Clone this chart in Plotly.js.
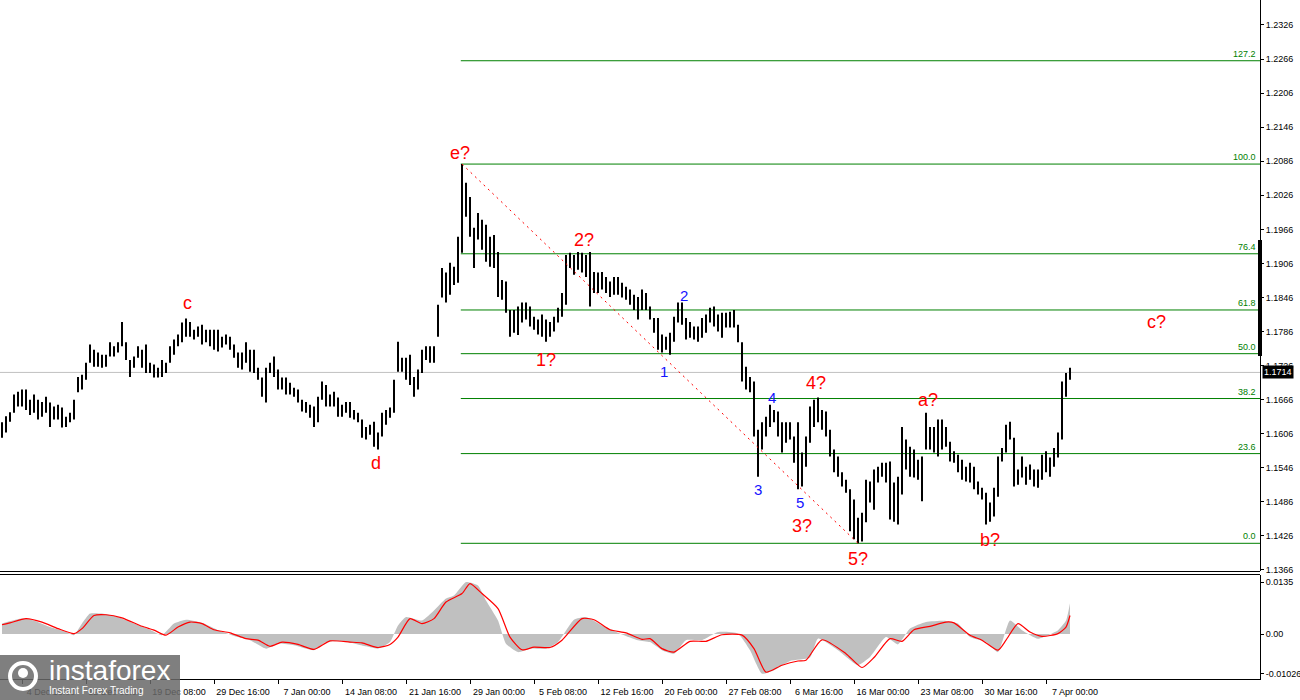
<!DOCTYPE html>
<html><head><meta charset="utf-8">
<script src="https://cdn.plot.ly/plotly-3.0.1.min.js"></script>
<style>html,body{margin:0;padding:0;background:#fff}#chart{width:1300px;height:700px}</style>
</head><body><div id="chart"></div>
<script>
// ---- price bars (H/L) ----
const highs=[
1.1626,1.1637,1.1644,1.1675,1.1680,1.1684,1.1684,1.1666,1.1675,1.1666,
1.1662,1.1671,1.1661,1.1654,1.1657,1.1652,1.1636,1.1643,1.1666,1.1706,
1.1710,1.1731,1.1763,1.1754,1.1749,1.1745,1.1745,1.1767,1.1760,1.1767,
1.1803,1.1767,1.1736,1.1742,1.1760,1.1754,1.1763,1.1731,1.1728,1.1722,
1.1736,1.1731,1.1760,1.1772,1.1781,1.1802,1.1809,1.1803,1.1789,1.1795,
1.1798,1.1789,1.1789,1.1789,1.1789,1.1777,1.1781,1.1777,1.1763,1.1749,
1.1749,1.1767,1.1754,1.1754,1.1722,1.1705,1.1722,1.1731,1.1742,1.1719,
1.1705,1.1705,1.1696,1.1687,1.1684,1.1666,1.1662,1.1657,1.1654,1.1671,
1.1698,1.1692,1.1675,1.1680,1.1670,1.1657,1.1662,1.1662,1.1648,1.1643,
1.1631,1.1618,1.1622,1.1627,1.1608,1.1643,1.1648,1.1652,1.1701,1.1768,
1.1740,1.1740,1.1745,1.1706,1.1719,1.1754,1.1760,1.1760,1.1760,1.1833,
1.1898,1.1890,1.1907,1.1900,1.1953,1.2081,1.2048,1.2023,1.1969,1.1995,
1.1983,1.1974,1.1953,1.1956,1.1926,1.1877,1.1874,1.1824,1.1824,1.1830,
1.1837,1.1837,1.1830,1.1812,1.1807,1.1816,1.1807,1.1803,1.1812,1.1828,
1.1854,1.1921,1.1925,1.1921,1.1926,1.1925,1.1921,1.1926,1.1891,1.1890,
1.1891,1.1882,1.1874,1.1882,1.1882,1.1872,1.1865,1.1860,1.1851,1.1847,
1.1860,1.1854,1.1830,1.1810,1.1810,1.1781,1.1777,1.1784,1.1812,1.1837,
1.1837,1.1810,1.1803,1.1795,1.1795,1.1810,1.1816,1.1828,1.1830,1.1816,
1.1819,1.1819,1.1821,1.1824,1.1798,1.1767,1.1724,1.1706,1.1698,1.1613,
1.1626,1.1636,1.1657,1.1648,1.1645,1.1626,1.1626,1.1626,1.1601,1.1626,
1.1573,1.1601,1.1654,1.1666,1.1670,1.1648,1.1645,1.1613,1.1578,1.1566,
1.1538,1.1525,1.1508,1.1490,1.1458,1.1467,1.1525,1.1522,1.1543,1.1548,
1.1555,1.1555,1.1557,1.1520,1.1530,1.1618,1.1596,1.1583,1.1578,1.1560,
1.1566,1.1643,1.1618,1.1618,1.1631,1.1631,1.1618,1.1592,1.1575,1.1569,
1.1560,1.1548,1.1555,1.1548,1.1522,1.1511,1.1502,1.1485,1.1511,1.1566,
1.1581,1.1622,1.1627,1.1599,1.1543,1.1566,1.1548,1.1552,1.1543,1.1543,
1.1569,1.1575,1.1564,1.1581,1.1608,1.1698,1.1713,1.1722];
const lows=[
1.1599,1.1608,1.1627,1.1643,1.1654,1.1654,1.1648,1.1639,1.1643,1.1631,
1.1636,1.1643,1.1618,1.1631,1.1631,1.1617,1.1618,1.1626,1.1631,1.1679,
1.1684,1.1701,1.1731,1.1724,1.1724,1.1722,1.1724,1.1742,1.1742,1.1749,
1.1760,1.1736,1.1706,1.1722,1.1740,1.1722,1.1713,1.1713,1.1705,1.1705,
1.1706,1.1713,1.1731,1.1745,1.1760,1.1767,1.1777,1.1777,1.1772,1.1777,
1.1763,1.1767,1.1760,1.1754,1.1751,1.1758,1.1763,1.1754,1.1740,1.1722,
1.1719,1.1731,1.1715,1.1713,1.1701,1.1671,1.1661,1.1713,1.1706,1.1684,
1.1684,1.1675,1.1675,1.1671,1.1661,1.1645,1.1643,1.1634,1.1618,1.1626,
1.1666,1.1654,1.1654,1.1654,1.1636,1.1636,1.1643,1.1634,1.1631,1.1626,
1.1599,1.1596,1.1604,1.1583,1.1578,1.1601,1.1622,1.1634,1.1643,1.1715,
1.1715,1.1701,1.1692,1.1671,1.1684,1.1713,1.1736,1.1731,1.1731,1.1777,
1.1846,1.1837,1.1851,1.1868,1.1872,1.1925,1.1988,1.1953,1.1898,1.1948,
1.1930,1.1909,1.1900,1.1898,1.1847,1.1842,1.1819,1.1777,1.1784,1.1780,
1.1802,1.1807,1.1795,1.1789,1.1781,1.1777,1.1768,1.1777,1.1786,1.1802,
1.1812,1.1833,1.1898,1.1886,1.1895,1.1890,1.1882,1.1830,1.1854,1.1854,
1.1860,1.1854,1.1847,1.1851,1.1851,1.1846,1.1842,1.1833,1.1824,1.1807,
1.1824,1.1824,1.1807,1.1784,1.1754,1.1749,1.1754,1.1745,1.1768,1.1802,
1.1798,1.1772,1.1775,1.1772,1.1768,1.1775,1.1784,1.1802,1.1795,1.1786,
1.1775,1.1793,1.1793,1.1793,1.1767,1.1698,1.1684,1.1679,1.1601,1.1530,
1.1578,1.1601,1.1618,1.1626,1.1601,1.1573,1.1590,1.1596,1.1555,1.1508,
1.1513,1.1548,1.1590,1.1618,1.1626,1.1613,1.1601,1.1566,1.1538,1.1530,
1.1513,1.1502,1.1434,1.1420,1.1413,1.1416,1.1450,1.1485,1.1472,1.1520,
1.1530,1.1520,1.1455,1.1451,1.1446,1.1499,1.1543,1.1530,1.1529,1.1525,
1.1487,1.1578,1.1578,1.1573,1.1566,1.1578,1.1583,1.1557,1.1555,1.1538,
1.1525,1.1522,1.1520,1.1508,1.1499,1.1490,1.1446,1.1451,1.1460,1.1495,
1.1557,1.1573,1.1596,1.1513,1.1516,1.1529,1.1516,1.1525,1.1513,1.1511,
1.1525,1.1538,1.1530,1.1548,1.1564,1.1596,1.1671,1.1701];
const lastPrice=1.1714;

// ---- time axis labels (bar index of each label) ----
const dateTickIdx=[5,21,37,53,69,85,101,117,133,149,165,181,197,213,229,245,261];
const dateTickText=["4 Dec 16:00","12 Dec 00:00","19 Dec 08:00","29 Dec 16:00","7 Jan 00:00","14 Jan 08:00","21 Jan 16:00","29 Jan 00:00","5 Feb 08:00","12 Feb 16:00","20 Feb 00:00","27 Feb 08:00","6 Mar 16:00","16 Mar 00:00","23 Mar 08:00","30 Mar 16:00","7 Apr 00:00"];

// ---- price scale ticks ----
const priceTicks=[1.1366,1.1426,1.1486,1.1546,1.1606,1.1666,1.1726,1.1786,1.1846,1.1906,1.1966,1.2026,1.2086,1.2146,1.2206,1.2266,1.2326];

// ---- Fibonacci levels ----
const fibLevels=["0.0","23.6","38.2","50.0","61.8","76.4","100.0","127.2"];
const fibPrices=[1.1413,1.1571,1.1668,1.1747,1.1824,1.1923,1.2081,1.2263];

// ---- MACD (histogram) and signal ----
const macdIdx=[0,5,8,12,16,18,20,22,25,29,33,37,40,43,46,50,54,59,62,66,69,73,78,81,85,91,94,97,99,101,105,108,111,113,116,119,121,124,126,129,132,136,139,143,146,150,155,159,162,165,168,171,175,179,184,187,190,193,197,202,204,209,214,217,221,224,227,231,236,239,242,246,249,252,255,259,264,266,267];
const macdVals=[0.0027,0.0040,0.0035,0.0018,0.0005,-0.0003,0.0027,0.0053,0.0053,0.0044,0.0027,0.0011,-0.0003,0.0027,0.0037,0.0029,0.0010,-0.0008,-0.0016,-0.0038,-0.0025,-0.0029,-0.0042,-0.0021,-0.0018,-0.0032,-0.0038,-0.0021,0.0022,0.0044,0.0035,0.0061,0.0092,0.0100,0.0135,0.0126,0.0087,0.0035,-0.0025,-0.0047,-0.0038,-0.0038,-0.0021,0.0037,0.0044,0.0022,-0.0001,-0.0016,-0.0021,-0.0042,-0.0051,-0.0016,-0.0016,0.0005,0.0001,-0.0042,-0.0103,-0.0094,-0.0070,-0.0061,-0.0012,-0.0042,-0.0081,-0.0060,-0.0008,-0.0027,0.0014,0.0031,0.0034,0.0027,-0.0008,-0.0021,-0.0047,0.0035,0.0010,-0.0012,0.0010,0.0035,0.0080];
const signalIdx=[0,2,6,10,14,18,20,23,26,30,35,38,41,44,47,50,53,57,61,64,67,70,74,78,82,87,90,94,97,99,102,105,108,111,115,117,120,124,127,130,133,137,140,145,148,152,156,160,162,165,168,172,176,180,185,188,191,195,199,201,205,211,215,218,222,225,228,232,236,238,242,245,249,251,254,257,260,264,266,267];
const signalVals=[0.0024,0.0029,0.0040,0.0031,0.0014,0.0001,0.0014,0.0048,0.0050,0.0042,0.0020,0.0010,-0.0003,0.0018,0.0031,0.0027,0.0011,0.0003,-0.0012,-0.0016,-0.0032,-0.0021,-0.0027,-0.0040,-0.0018,-0.0021,-0.0023,-0.0035,-0.0027,-0.0008,0.0040,0.0027,0.0040,0.0083,0.0105,0.0131,0.0105,0.0066,-0.0008,-0.0041,-0.0034,-0.0035,-0.0016,0.0040,0.0037,0.0011,0.0003,-0.0014,-0.0012,-0.0038,-0.0047,-0.0019,-0.0019,-0.0002,-0.0003,-0.0038,-0.0099,-0.0081,-0.0070,-0.0068,-0.0015,-0.0051,-0.0087,-0.0061,-0.0012,-0.0019,0.0011,0.0020,0.0031,0.0029,-0.0003,-0.0016,-0.0042,-0.0016,0.0027,0.0005,-0.0006,0.0001,0.0018,0.0048];

// ---- wave labels ----
const waveText=["c","d","e?","1?","2?","1","2","3","4","5","3?","4?","5?","a?","b?","c?"];
const waveColor=["red","red","red","red","red","blue","blue","blue","blue","blue","red","red","red","red","red","red"];

// ===== layout helpers (pixel geometry) =====
const W=1260, H=679;              // plot area (px)
const r0=-0.5, r1=r0+W/4;         // 4 px per bar
const px2x=p=>p/W, py2y=p=>(H-p)/H;
const wavePos=[[46.4,1.1837],[93.6,1.1555],[114.4,1.2101],[136.1,1.1736],[145.6,1.1948],[165.6,1.1715],[170.4,1.1849],[189.1,1.1508],[192.6,1.1670],[199.6,1.1485],[199.9,1.1444],[203.6,1.1696],[214.1,1.1386],[231.6,1.1666],[247.1,1.1418],[288.6,1.1802]];

// bars as vertical segments
const bx=[],by=[];
for(let i=0;i<highs.length;i++){bx.push(i,i,null);by.push(lows[i],highs[i],null);}

const traces=[
 {type:'scatter',mode:'lines',x:bx,y:by,line:{color:'#000',width:2},hoverinfo:'skip',xaxis:'x',yaxis:'y'},
 {type:'scatter',mode:'lines',x:macdIdx,y:macdVals,fill:'tozeroy',fillcolor:'#c0c0c0',line:{width:0,color:'#c0c0c0',shape:'spline',smoothing:0.5},xaxis:'x',yaxis:'y2',hoverinfo:'skip'},
 {type:'scatter',mode:'lines',x:signalIdx,y:signalVals,line:{color:'#ff0000',width:1.2,shape:'spline',smoothing:0.6},xaxis:'x',yaxis:'y2',hoverinfo:'skip'}
];

const shapes=[];
shapes.push({type:'line',xref:'paper',x0:0,x1:1,yref:'y',y0:lastPrice,y1:lastPrice,line:{color:'#c0c0c0',width:1},layer:'below'});
fibPrices.forEach(p=>shapes.push({type:'line',xref:'x',x0:114.7,x1:r1,yref:'y',y0:p,y1:p,line:{color:'#008000',width:1},layer:'below'}));
shapes.push({type:'line',xref:'x',yref:'y',x0:115,y0:highs[115],x1:214,y1:lows[214],line:{color:'#ff0000',width:1,dash:'2px,4px'}});
shapes.push({type:'line',xref:'paper',yref:'paper',x0:0,x1:1,y0:py2y(571.5),y1:py2y(571.5),line:{color:'#000',width:1}});
shapes.push({type:'line',xref:'paper',yref:'paper',x0:0,x1:1,y0:py2y(574.5),y1:py2y(574.5),line:{color:'#000',width:1}});
shapes.push({type:'rect',xref:'paper',xsizemode:'pixel',xanchor:1,x0:-2,x1:2,yref:'paper',y0:py2y(356),y1:py2y(240),fillcolor:'#000',line:{width:0}});
// logo
shapes.push({type:'rect',xref:'paper',yref:'paper',x0:0,x1:px2x(180),y0:py2y(700),y1:py2y(655),fillcolor:'rgba(105,105,105,0.85)',line:{width:0},layer:'above'});
shapes.push({type:'circle',xref:'paper',yref:'paper',x0:px2x(10),x1:px2x(36),y0:py2y(689),y1:py2y(663),line:{color:'#fff',width:4},layer:'above'});
shapes.push({type:'circle',xref:'paper',yref:'paper',x0:px2x(18),x1:px2x(28),y0:py2y(678),y1:py2y(668),fillcolor:'#fff',line:{width:0},layer:'above'});

const ann=[];
fibLevels.forEach((t,k)=>ann.push({xref:'paper',x:1,xanchor:'right',xshift:-2,yref:'y',y:fibPrices[k],yanchor:'bottom',text:t,showarrow:false,font:{family:'Liberation Sans, Arial',size:9,color:'#008000'}}));
waveText.forEach((t,k)=>ann.push({xref:'x',x:wavePos[k][0],yref:'y',y:wavePos[k][1],text:t,showarrow:false,font:{family:'Liberation Sans, Arial',size:waveColor[k]==='red'?18:15,color:waveColor[k]==='red'?'#ff0000':'#1414ff'}}));
ann.push({xref:'paper',x:1,xanchor:'left',xshift:2,yref:'y',y:lastPrice,text:'1.1714',showarrow:false,bgcolor:'#000',borderpad:1,font:{family:'Liberation Sans, Arial',size:9,color:'#fff'}});
ann.push({xref:'paper',x:px2x(47),xanchor:'left',yref:'paper',y:py2y(670),yanchor:'middle',text:'instaforex',showarrow:false,font:{family:'Liberation Sans, Arial',size:28,color:'#fff'}});
ann.push({xref:'paper',x:px2x(47),xanchor:'left',yref:'paper',y:py2y(690),yanchor:'middle',text:'Instant Forex Trading',showarrow:false,font:{family:'Liberation Sans, Arial',size:10,color:'#fff'}});

const layout={
 width:1300,height:700,margin:{l:0,r:40,t:0,b:21},
 paper_bgcolor:'#fff',plot_bgcolor:'#fff',showlegend:false,
 xaxis:{range:[r0,r1],anchor:'y2',showgrid:false,zeroline:false,tickmode:'array',tickvals:dateTickIdx,ticktext:dateTickText,ticks:'outside',ticklen:4,tickcolor:'#000',ticklabelshift:29,showline:true,linecolor:'#000',linewidth:1,tickfont:{family:'Liberation Sans, Arial',size:9,color:'#000'}},
 yaxis:{domain:[py2y(571),1],range:[1.13642,1.23700],side:'right',anchor:'x',showgrid:false,zeroline:false,tickmode:'array',tickvals:priceTicks,tickformat:'.4f',ticks:'outside',ticklen:3,tickcolor:'#000',showline:true,linecolor:'#000',tickfont:{family:'Liberation Sans, Arial',size:9,color:'#000'}},
 yaxis2:{domain:[0,py2y(575)],range:[-0.01168,0.01532],side:'right',anchor:'x',showgrid:false,zeroline:false,tickmode:'array',tickvals:[0.0135,0,-0.01026],ticktext:['0.0135','0.00','-0.01026'],ticks:'outside',ticklen:3,tickcolor:'#000',showline:true,linecolor:'#000',tickfont:{family:'Liberation Sans, Arial',size:9,color:'#000'}},
 shapes:shapes,annotations:ann
};
Plotly.newPlot('chart',traces,layout,{displayModeBar:false,staticPlot:true});
</script></body></html>
